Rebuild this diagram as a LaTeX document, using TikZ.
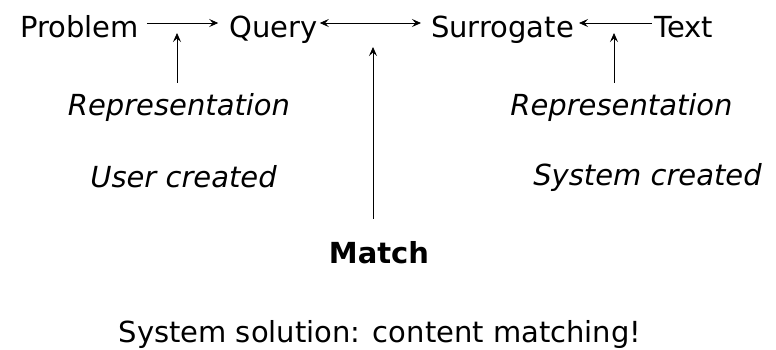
\documentclass[tikz,border=0pt]{standalone}
\usepackage{fontspec}
\setmainfont{DejaVu Sans}
\usepackage{tikz}
\usetikzlibrary{arrows.meta,positioning}
\tikzset{
  irlabel/.style={font=\fontsize{29}{34}\selectfont, inner sep=2pt, anchor=base,
    text height=28pt, text depth=0pt},
  irnote/.style={irlabel, font=\fontsize{29}{34}\selectfont\itshape},
  irarrow/.style={-{Stealth[length=9pt,width=8pt,inset=3.5pt]}, line width=0.8pt},
  irboth/.style={{Stealth[length=9pt,width=8pt,inset=3.5pt]}-{Stealth[length=9pt,width=8pt,inset=3.5pt]}, line width=0.8pt}
}

\begin{document}
\begin{tikzpicture}[x=1pt,y=-1pt]
  \useasboundingbox (0,0) rectangle (776,349);
  \node[irlabel] (prob) at (79.5,37) {Problem};
  \node[irlabel] (query) at (273.5,37) {Query};
  \node[irlabel] (surr) at (502.5,37) {Surrogate};
  \node[irlabel] (text) at (683.5,37) {Text};
  \node[irnote] (repU) at (179,115) {Representation};
  \node[irnote] (repS) at (621.5,115) {Representation};
  \node[irnote] (user) at (183.5,187) {User created};
  \node[irnote] (sys) at (647.5,185) {System created};
  \node[irlabel, font=\fontsize{29}{34}\selectfont\bfseries] (match) at (379,263) {Match};
  \node[irlabel] (sol) at (380,342) {System solution: content matching!};
  \coordinate (tipU) at (177,33);
  \coordinate (tipS) at (614,33);
  \coordinate (tipM) at (373,47);
  \draw[irarrow, shorten <=6pt, shorten >=9pt] (prob) -- (query);
  \draw[irboth, shorten >=8pt] (query) -- (surr);
  \draw[irarrow, shorten >=3pt] (text) -- (surr);
  \draw[irarrow, shorten <=2pt] (repU.north -| tipU) -- (tipU);
  \draw[irarrow, shorten <=2pt] (repS.north -| tipS) -- (tipS);
  \draw[irarrow, shorten <=14pt] (match.north -| tipM) -- (tipM);
\end{tikzpicture}
\end{document}
